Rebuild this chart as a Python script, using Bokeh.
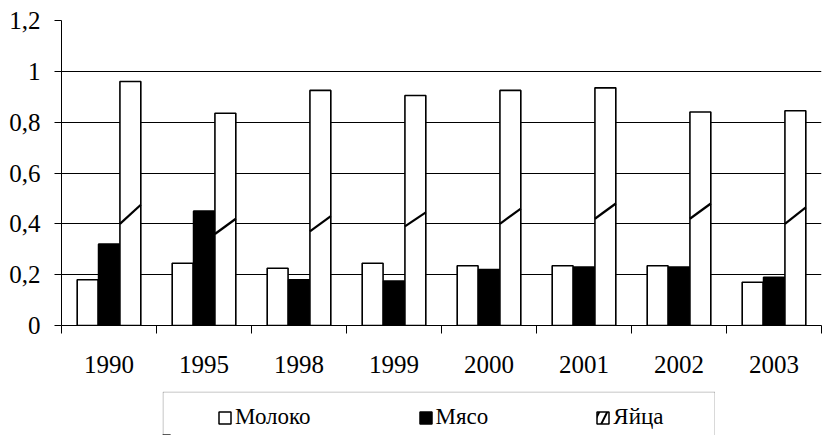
from bokeh.plotting import figure
from bokeh.models import (Range1d, FixedTicker, LinearAxis, CustomJSTickFormatter,
                          Legend, LegendItem, ColumnDataSource, BoxAnnotation, Spacer, Grid)
from bokeh.layouts import column, row
from bokeh.transform import dodge
from bokeh.embed import file_html
from bokeh.resources import INLINE

# ---- data ----
years = ["1990", "1995", "1998", "1999", "2000", "2001", "2002", "2003"]
milk = [0.18, 0.245, 0.225, 0.245, 0.235, 0.235, 0.235, 0.17]
meat = [0.32, 0.45, 0.18, 0.175, 0.22, 0.23, 0.23, 0.19]
eggs = [0.96, 0.835, 0.925, 0.905, 0.925, 0.935, 0.84, 0.845]
egg_slash_lo = [0.40, 0.36, 0.37, 0.39, 0.40, 0.42, 0.42, 0.40]
egg_slash_hi = [0.475, 0.42, 0.43, 0.445, 0.46, 0.48, 0.48, 0.465]
series = ["Молоко", "Мясо", "Яйца"]
y_ticks = [0, 0.2, 0.4, 0.6, 0.8, 1.0, 1.2]
grid_ticks = [0.2, 0.4, 0.6, 0.8, 1.0]

FONT = "Liberation Serif"
BAR_W = 0.22
OFF = 0.225

src = ColumnDataSource(dict(
    x=[i + 0.5 for i in range(len(years))],
    milk=milk, meat=meat, eggs=eggs, lo=egg_slash_lo, hi=egg_slash_hi,
))

PH = 391
p = figure(width=823, height=PH, x_range=Range1d(0, len(years)), y_range=Range1d(0, 1.2),
           output_backend="svg", toolbar_location=None, x_axis_type=None, y_axis_type=None,
           min_border_left=61, min_border_right=2, min_border_top=20, min_border_bottom=PH - 325)
p.outline_line_color = None
p.background_fill_color = "white"
p.border_fill_color = "white"

grid = Grid(dimension=1, ticker=FixedTicker(ticks=grid_ticks), grid_line_color="black", grid_line_width=1)
p.add_layout(grid)

yaxis = LinearAxis(ticker=FixedTicker(ticks=y_ticks),
                   formatter=CustomJSTickFormatter(code="var s=(Math.round(tick*10)/10).toString(); return s.replace('.', ',');"),
                   major_tick_out=7, major_tick_in=0, minor_tick_line_color=None,
                   axis_line_color="black", major_tick_line_color="black",
                   major_label_standoff=14, major_label_text_font=FONT,
                   major_label_text_font_size="25px", major_label_text_color="black")
p.add_layout(yaxis, "left")

xaxis = LinearAxis(ticker=FixedTicker(ticks=[i + 0.5 for i in range(len(years))],
                                      minor_ticks=list(range(len(years) + 1))),
                   formatter=CustomJSTickFormatter(args=dict(labels=years),
                                                   code="return labels[Math.floor(tick)];"),
                   major_tick_out=0, major_tick_in=0, major_tick_line_color=None,
                   minor_tick_out=8, minor_tick_in=0, minor_tick_line_color="black",
                   axis_line_color="black", major_label_standoff=22,
                   major_label_text_font=FONT, major_label_text_font_size="25px",
                   major_label_text_color="black")
p.add_layout(xaxis, "below")

p.vbar(x=dodge("x", -OFF), top="milk", width=BAR_W, source=src,
       fill_color="white", line_color="black", line_width=1.6)
p.vbar(x=dodge("x", 0), top="meat", width=BAR_W, source=src,
       fill_color="black", line_color="black", line_width=1.6)
p.vbar(x=dodge("x", OFF), top="eggs", width=BAR_W, source=src,
       fill_color="white", line_color="black", line_width=1.6)
p.segment(x0=dodge("x", OFF - BAR_W / 2), y0="lo", x1=dodge("x", OFF + BAR_W / 2), y1="hi",
          source=src, line_color="black", line_width=2.2)

# ---- legend panel ----
LW, LH = 553, 435 - PH
p2 = figure(width=LW, height=LH, x_range=Range1d(0, LW), y_range=Range1d(0, LH),
            output_backend="svg", toolbar_location=None, x_axis_type=None, y_axis_type=None,
            min_border=0, min_border_left=0, min_border_right=0, min_border_top=0, min_border_bottom=0)
p2.outline_line_color = None
p2.extra_y_ranges = {"hidden": Range1d(10, 20)}
p2.add_layout(BoxAnnotation(left=0.5, right=LW - 0.5, top=LH - 0.5, bottom=-20,
                            fill_color=None, line_color="black", line_width=1))

# legend proxies: same data, mapped to an off-screen range
r1 = p2.vbar(x="x", top="milk", width=1, source=src, y_range_name="hidden",
             fill_color="white", line_color="black", line_width=1.5)
r2 = p2.vbar(x="x", top="meat", width=1, source=src, y_range_name="hidden",
             fill_color="black", line_color="black", line_width=1.5)
r3 = p2.vbar(x="x", top="eggs", width=1, source=src, y_range_name="hidden",
             fill_color="white", line_color="black", line_width=1.5,
             hatch_pattern="/", hatch_color="black", hatch_scale=16, hatch_weight=2)

legend = Legend(items=[LegendItem(label=s, renderers=[r]) for s, r in zip(series, [r1, r2, r3])],
                orientation="horizontal", location=(55, 5), padding=0, margin=0, spacing=107,
                glyph_width=15, glyph_height=15, label_standoff=3,
                label_text_font=FONT, label_text_font_size="23px", label_text_color="black",
                border_line_color=None, background_fill_alpha=0)
p2.add_layout(legend)

layout = column(p, row(Spacer(width=162, height=LH), p2))

open("out.html", "w").write(file_html(layout, INLINE))
